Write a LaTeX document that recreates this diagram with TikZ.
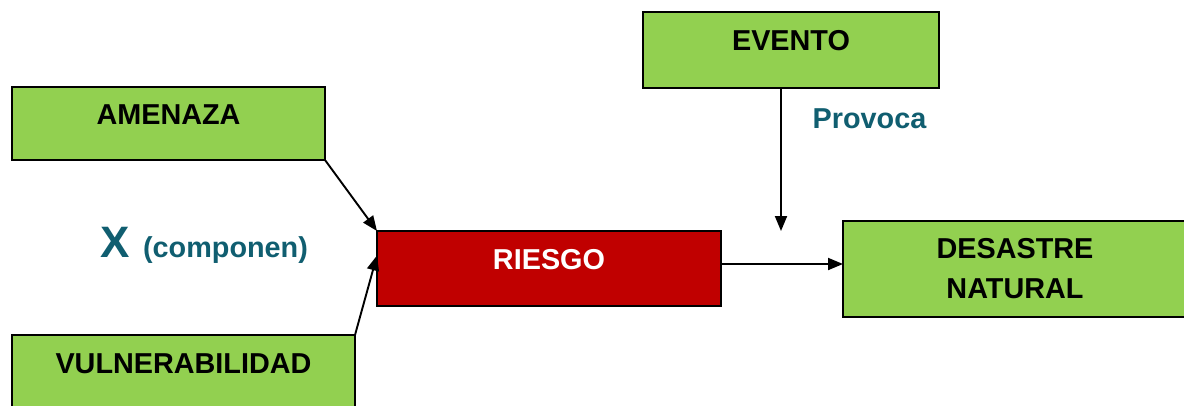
\documentclass[tikz,border=0pt]{standalone}
\usepackage{fontspec}
\setmainfont{Liberation Sans}
\usetikzlibrary{arrows.meta}
\definecolor{boxgreen}{HTML}{92D050}
\definecolor{boxred}{HTML}{C00000}
\definecolor{tealtxt}{RGB}{16,94,112}
\begin{document}
\begin{tikzpicture}[x=1pt,y=-1pt,
  gbox/.style={draw=black, line width=1.5pt, fill=boxgreen, inner sep=0pt, outer sep=0pt},
  rbox/.style={draw=black, line width=1.5pt, fill=boxred, inner sep=0pt, outer sep=0pt},
  lbl/.style={font=\fontsize{28.8}{40}\selectfont\bfseries, inner sep=0pt, anchor=base},
  conn/.style={line width=1.9pt, -{Triangle[length=15pt,width=12pt]}}]
\clip (0,0) rectangle (1184,405);
% boxes
\node[gbox, minimum width=313pt, minimum height=73pt] (amen) at (168.5,123.5) {};
\node[gbox, minimum width=343pt, minimum height=80pt] (vuln) at (183.5,375) {};
\node[rbox, minimum width=344pt, minimum height=75pt] (ries) at (549,268.5) {};
\node[gbox, minimum width=296pt, minimum height=76pt] (even) at (791,50) {};
\node[gbox, minimum width=347pt, minimum height=96pt] (desa) at (1016.5,269) {};
% texts
\node[lbl] (amenT) at (168.5,124) {AMENAZA};
\node[lbl] (vulnT) at (183.5,373) {VULNERABILIDAD};
\node[lbl, text=white] (riesT) at (549,269) {RIESGO};
\node[lbl] (evenT) at (791,50) {EVENTO};
\node[lbl, align=center] (desaT) at (1015,298) {DESASTRE\\NATURAL};
\node[lbl, text=tealtxt] (prov) at (869.5,128) {Provoca};
\node[lbl, text=tealtxt, font=\fontsize{44}{50}\selectfont\bfseries] (xmark) at (115.5,257) {X};
\node[lbl, text=tealtxt] (comp) at (225.5,257) {(componen)};
% connectors
\coordinate (evtip) at (781,231);
\draw[conn] (amen.south east) -- (ries.north west);
\draw[conn] (vuln.north east) -- ([yshift=13pt]ries.west);
\draw[conn] ([yshift=4.5pt]ries.east) -- ([yshift=4.5pt]ries.east -| desa.west);
\draw[conn] (evtip |- even.south) -- (evtip);
\end{tikzpicture}
\end{document}
